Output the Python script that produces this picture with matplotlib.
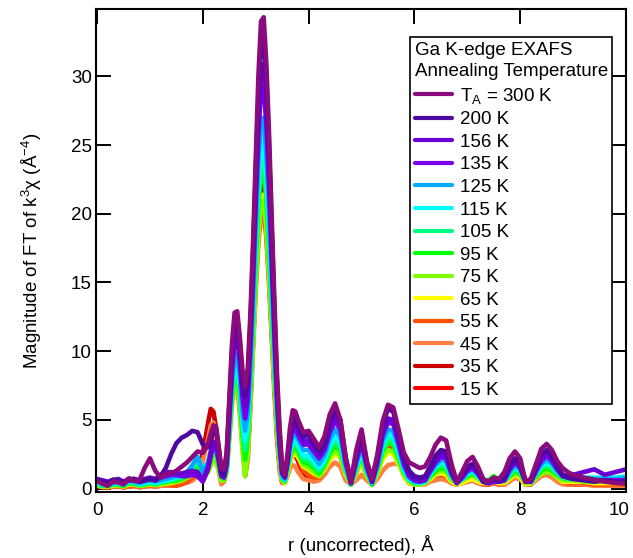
import numpy as np
import matplotlib.pyplot as plt
from matplotlib.transforms import ScaledTranslation

plt.rcParams['font.family'] = ['Liberation Sans', 'DejaVu Sans']
plt.rcParams['mathtext.fontset'] = 'custom'
plt.rcParams['mathtext.rm'] = 'Liberation Sans'
plt.rcParams['mathtext.it'] = 'Liberation Sans:italic'

# r grid (Angstrom): finer steps across the first-shell peaks
r = np.round(np.concatenate([
    np.arange(0, 21) * 0.1,
    2.1 + np.arange(0, 35) * 0.05,
    3.9 + np.arange(0, 52) * 0.1,
    9.2 + np.arange(0, 5) * 0.2,
]), 2)

# |FT| of k^3 chi for each annealing temperature
t300 = [0.55, 0.35, 0.2, 0.5, 0.45, 0.3, 0.75, 0.55, 0.6, 1.5,
        2.2, 1.3, 0.8, 1.1, 1.1, 1.3, 1.6, 1.9, 2.3, 2.7,
        2.6, 3.3, 4.0, 4.6, 4.5, 3.0, 1.5, 1.4, 2.6,
        6.5, 10.5, 12.8, 12.9, 11.0, 8.6, 7.4, 8.8, 12.8, 18.0,
        24.0, 30.0, 34.0, 34.3, 31.0, 26.0, 20.0, 14.0, 8.5, 4.5,
        1.5, 1.0, 2.5, 4.5, 5.7, 5.6, 5.0,
        4.1, 4.2, 3.6, 3.0, 3.8, 5.4, 6.2, 5.0, 2.2, 0.5,
        2.8, 4.3, 2.0, 0.7, 2.5, 4.9, 6.1, 5.9, 4.3, 2.6,
        1.9, 1.7, 1.5, 1.6, 2.3, 3.2, 3.7, 3.5, 1.8, 0.5,
        1.2, 2.0, 2.3, 1.6, 0.7, 0.5, 0.8, 0.7, 1.2, 2.2,
        2.7, 2.2, 0.5, 0.7, 1.8, 2.9, 3.25, 2.8, 2.0, 1.5,
        1.2, 1.0, 0.8, 0.65, 0.5, 0.4, 0.35]
t200 = [0.6, 0.5, 0.4, 0.65, 0.6, 0.45, 0.6, 0.7, 0.5, 0.6,
        0.7, 0.6, 0.9, 1.5, 2.5, 3.3, 3.7, 3.9, 4.2, 4.1,
        3.2, 3.0, 3.5, 4.2, 4.3, 3.0, 1.2, 1.0, 2.2,
        6.0, 9.8, 12.2, 12.4, 10.5, 8.0, 6.7, 8.0, 12.0, 17.2,
        23.0, 28.5, 32.4, 32.8, 29.8, 25.0, 19.0, 13.2, 7.8, 4.0,
        1.3, 0.9, 2.2, 4.0, 5.1, 5.2, 4.6,
        3.8, 3.9, 3.3, 2.7, 3.3, 4.9, 5.8, 5.0, 2.3, 0.5,
        2.5, 4.0, 1.9, 0.6, 2.3, 4.6, 5.8, 5.6, 4.0, 2.3,
        1.3, 0.9, 0.8, 0.9, 1.6, 2.4, 2.8, 2.7, 1.4, 0.5,
        1.0, 1.6, 1.8, 1.3, 0.6, 0.5, 0.7, 0.6, 0.8, 1.7,
        2.2, 1.8, 0.6, 0.6, 1.6, 2.5, 2.8, 2.4, 1.6, 1.0,
        0.8, 0.7, 0.6, 0.5, 0.6, 0.5, 0.5]
t156 = [0.7, 0.6, 0.5, 0.6, 0.7, 0.5, 0.7, 0.7, 0.6, 0.7,
        0.8, 0.7, 1.0, 1.2, 1.2, 1.1, 1.1, 1.2, 1.3, 1.2,
        0.6, 1.6, 2.6, 3.4, 3.3, 2.2, 1.0, 0.9, 2.0,
        5.6, 9.0, 11.3, 11.5, 9.8, 7.3, 5.9, 7.3, 11.3, 16.3,
        22.0, 27.2, 30.6, 30.9, 28.0, 23.4, 17.8, 12.3, 7.2, 3.6,
        1.2, 0.9, 2.0, 3.6, 4.6, 4.7, 4.2,
        3.5, 3.5, 3.0, 2.4, 3.0, 4.4, 5.3, 4.6, 2.1, 0.4,
        2.2, 3.6, 1.7, 0.5, 2.0, 4.1, 5.1, 5.0, 3.6, 2.0,
        1.0, 0.7, 0.6, 0.7, 1.4, 2.1, 2.5, 2.4, 1.2, 0.4,
        0.9, 1.4, 1.7, 1.2, 0.5, 0.4, 0.6, 0.5, 0.7, 1.5,
        2.0, 1.6, 0.5, 0.5, 1.4, 2.2, 2.6, 2.2, 1.5, 1.0,
        0.9, 1.0, 1.2, 1.4, 1.0, 1.2, 1.4]
t135 = [0.6, 0.5, 0.4, 0.5, 0.6, 0.4, 0.6, 0.6, 0.5, 0.6,
        0.7, 0.6, 0.8, 0.9, 1.0, 1.0, 0.9, 0.9, 1.0, 0.9,
        0.5, 1.4, 2.4, 3.1, 3.0, 2.0, 0.9, 0.8, 1.8,
        5.2, 8.5, 10.7, 10.9, 9.2, 6.6, 5.1, 6.5, 10.4, 15.3,
        20.8, 25.8, 29.0, 29.3, 26.5, 22.2, 16.9, 11.6, 6.8, 3.3,
        1.1, 0.8, 1.9, 3.4, 4.3, 4.4, 3.9,
        3.2, 3.2, 2.7, 2.2, 2.8, 4.1, 4.9, 4.3, 1.9, 0.4,
        2.0, 3.4, 1.6, 0.5, 1.9, 3.9, 4.8, 4.7, 3.3, 1.8,
        0.9, 0.6, 0.5, 0.6, 1.3, 1.9, 2.3, 2.2, 1.1, 0.4,
        0.8, 1.3, 1.5, 1.1, 0.5, 0.4, 0.5, 0.5, 0.6, 1.4,
        1.9, 1.5, 0.5, 0.5, 1.3, 2.0, 2.4, 2.0, 1.4, 0.9,
        0.8, 0.7, 0.7, 0.6, 0.6, 0.6, 0.6]
t125 = [0.5, 0.4, 0.3, 0.4, 0.5, 0.3, 0.6, 0.5, 0.4, 0.5,
        0.6, 0.5, 0.6, 0.7, 0.8, 0.9, 1.0, 1.2, 1.7, 2.3,
        1.2, 1.9, 2.7, 3.2, 3.1, 2.1, 1.0, 0.9, 1.6,
        4.6, 7.6, 9.6, 9.8, 8.2, 5.6, 4.2, 5.5, 9.2, 14.0,
        19.2, 23.8, 26.7, 27.0, 24.4, 20.4, 15.5, 10.6, 6.1, 2.9,
        1.0, 0.7, 1.7, 3.1, 3.9, 4.0, 3.6,
        2.8, 2.8, 2.3, 1.8, 2.4, 3.6, 4.3, 3.8, 1.7, 0.4,
        1.8, 3.1, 1.4, 0.4, 1.7, 3.5, 4.3, 4.2, 3.0, 1.6,
        0.8, 0.5, 0.5, 0.6, 1.2, 1.7, 2.1, 2.0, 1.0, 0.4,
        0.7, 1.2, 1.4, 1.0, 0.5, 0.4, 0.5, 0.5, 0.6, 1.2,
        1.7, 1.4, 0.5, 0.5, 1.2, 1.8, 2.1, 1.8, 1.3, 0.9,
        0.8, 0.8, 0.7, 0.7, 0.7, 0.7, 0.8]
t115 = [0.4, 0.3, 0.3, 0.4, 0.4, 0.3, 0.5, 0.5, 0.3, 0.4,
        0.5, 0.4, 0.5, 0.6, 0.7, 0.8, 0.9, 1.1, 1.6, 2.3,
        1.4, 1.9, 2.6, 3.0, 2.9, 2.0, 1.0, 0.9, 1.5,
        4.4, 7.2, 9.0, 9.2, 7.6, 5.0, 3.5, 4.8, 8.6, 13.2,
        18.2, 22.5, 25.1, 25.4, 23.0, 19.2, 14.6, 10.0, 5.8, 2.7,
        0.9, 0.6, 1.6, 2.8, 3.5, 3.6, 3.2,
        2.4, 2.4, 2.0, 1.5, 2.1, 3.2, 3.8, 3.4, 1.5, 0.4,
        1.6, 2.8, 1.3, 0.4, 1.6, 3.2, 4.0, 3.8, 2.7, 1.4,
        0.7, 0.5, 0.4, 0.5, 1.1, 1.6, 1.9, 1.8, 0.9, 0.4,
        0.7, 1.1, 1.3, 0.9, 0.5, 0.4, 0.5, 0.5, 0.6, 1.1,
        1.6, 1.3, 0.5, 0.5, 1.1, 1.7, 1.9, 1.7, 1.2, 0.9,
        0.8, 0.8, 0.8, 0.8, 0.8, 0.8, 0.9]
t105 = [0.35, 0.25, 0.2, 0.3, 0.35, 0.25, 0.45, 0.4, 0.3, 0.35,
        0.45, 0.35, 0.45, 0.55, 0.6, 0.7, 0.8, 1.0, 1.4, 2.0,
        1.2, 1.7, 2.4, 2.8, 2.7, 1.8, 0.9, 0.8, 1.4,
        4.2, 6.9, 8.6, 8.8, 7.2, 4.5, 2.8, 4.2, 8.0, 12.6,
        17.4, 21.5, 23.9, 24.2, 21.9, 18.2, 13.8, 9.4, 5.4, 2.5,
        0.8, 0.6, 1.5, 2.6, 3.2, 3.3, 3.0,
        2.1, 2.1, 1.7, 1.3, 1.9, 2.9, 3.4, 3.1, 1.4, 0.3,
        1.5, 2.6, 1.2, 0.4, 1.5, 2.9, 3.6, 3.5, 2.5, 1.3,
        0.6, 0.4, 0.4, 0.5, 1.0, 1.5, 1.7, 1.6, 0.8, 0.4,
        0.7, 1.0, 1.2, 0.9, 0.5, 0.5, 0.7, 0.5, 0.6, 1.0,
        1.5, 1.2, 0.5, 0.5, 1.0, 1.5, 1.7, 1.5, 1.1, 0.8,
        0.7, 0.7, 0.7, 0.7, 0.7, 0.7, 0.7]
t95 = [0.3, 0.2, 0.2, 0.3, 0.3, 0.2, 0.4, 0.35, 0.25, 0.3,
       0.4, 0.3, 0.4, 0.5, 0.55, 0.6, 0.7, 0.9, 1.2, 1.7,
       1.0, 1.5, 2.1, 2.6, 2.5, 1.7, 0.8, 0.7, 1.3,
       4.0, 6.6, 8.2, 8.4, 6.8, 4.0, 2.1, 3.7, 7.5, 12.0,
       16.6, 20.6, 22.9, 23.2, 21.0, 17.4, 13.2, 9.0, 5.1, 2.3,
       0.7, 0.5, 1.4, 2.4, 3.0, 3.0, 2.7,
       1.9, 1.8, 1.5, 1.1, 1.7, 2.6, 3.1, 2.8, 1.3, 0.3,
       1.4, 2.4, 1.1, 0.3, 1.4, 2.7, 3.3, 3.2, 2.3, 1.2,
       0.6, 0.4, 0.4, 0.5, 0.9, 1.3, 1.5, 1.4, 0.8, 0.5,
       0.7, 0.9, 1.1, 0.9, 0.6, 0.6, 0.9, 0.6, 0.6, 0.9,
       1.3, 1.1, 0.5, 0.5, 0.9, 1.3, 1.5, 1.3, 1.0, 0.8,
       0.7, 0.7, 0.7, 0.6, 0.7, 0.6, 0.6]
t75 = [0.25, 0.15, 0.15, 0.25, 0.25, 0.15, 0.35, 0.3, 0.2, 0.25,
       0.35, 0.25, 0.35, 0.4, 0.45, 0.5, 0.6, 0.8, 1.0, 1.3,
       0.8, 1.2, 1.7, 2.0, 1.9, 1.3, 0.6, 0.6, 1.2,
       3.6, 6.0, 7.4, 7.6, 6.0, 3.0, 0.9, 2.6, 6.6, 10.8,
       15.0, 18.6, 20.7, 21.0, 19.0, 15.8, 12.0, 8.2, 4.6, 2.0,
       0.6, 0.5, 1.3, 2.2, 2.7, 2.8, 2.5,
       1.7, 1.5, 1.2, 0.9, 1.5, 2.3, 2.7, 2.4, 1.1, 0.3,
       1.2, 2.1, 1.0, 0.3, 1.2, 2.3, 2.8, 2.7, 1.9, 1.0,
       0.5, 0.3, 0.3, 0.4, 0.8, 1.1, 1.3, 1.2, 0.6, 0.4,
       0.6, 0.8, 0.9, 0.7, 0.5, 0.6, 0.8, 0.5, 0.5, 0.8,
       1.1, 0.9, 0.4, 0.4, 0.8, 1.1, 1.2, 1.1, 0.8, 0.6,
       0.6, 0.6, 0.5, 0.5, 0.5, 0.5, 0.5]
t65 = [0.25, 0.15, 0.15, 0.2, 0.25, 0.15, 0.3, 0.3, 0.2, 0.25,
       0.3, 0.25, 0.3, 0.35, 0.4, 0.5, 0.6, 0.8, 1.1, 1.4,
       0.7, 1.2, 1.7, 2.1, 2.0, 1.3, 0.6, 0.6, 1.2,
       3.7, 6.2, 7.6, 7.8, 6.2, 3.3, 1.2, 2.9, 6.9, 11.0,
       15.3, 19.0, 21.1, 21.4, 19.3, 16.0, 12.1, 8.2, 4.6, 2.0,
       0.6, 0.4, 1.1, 2.0, 2.5, 2.5, 2.3,
       1.6, 1.4, 1.1, 0.9, 1.4, 2.1, 2.5, 2.3, 1.0, 0.3,
       1.1, 1.9, 0.9, 0.3, 1.1, 2.1, 2.6, 2.5, 1.8, 0.9,
       0.4, 0.3, 0.3, 0.4, 0.7, 1.0, 1.1, 1.0, 0.5, 0.3,
       0.4, 0.6, 0.7, 0.5, 0.4, 0.4, 0.6, 0.4, 0.4, 0.7,
       1.0, 0.8, 0.3, 0.4, 0.8, 1.1, 1.3, 1.2, 0.8, 0.5,
       0.5, 0.5, 0.5, 0.4, 0.4, 0.4, 0.4]
t55 = [0.3, 0.15, 0.1, 0.15, 0.2, 0.1, 0.2, 0.25, 0.15, 0.2,
       0.25, 0.2, 0.3, 0.3, 0.25, 0.2, 0.3, 0.5, 0.8, 1.1,
       1.0, 1.8, 2.7, 3.2, 3.0, 1.8, 0.6, 0.5, 1.3,
       3.9, 6.3, 7.6, 7.8, 6.3, 3.4, 1.0, 2.6, 6.6, 10.7,
       14.8, 18.3, 20.3, 20.5, 18.5, 15.2, 11.5, 7.7, 4.2, 1.8,
       0.5, 0.4, 1.1, 2.0, 2.5, 2.6, 2.3,
       1.3, 1.0, 0.8, 0.8, 1.4, 2.1, 2.5, 2.3, 1.0, 0.3,
       1.1, 1.9, 0.9, 0.3, 1.3, 2.5, 3.2, 3.1, 2.1, 1.0,
       0.4, 0.3, 0.3, 0.4, 0.8, 1.1, 1.2, 1.1, 0.5, 0.3,
       0.5, 0.7, 0.8, 0.6, 0.4, 0.3, 0.5, 0.4, 0.4, 0.7,
       1.1, 0.9, 0.3, 0.4, 0.9, 1.2, 1.4, 1.2, 0.8, 0.5,
       0.4, 0.4, 0.4, 0.3, 0.3, 0.3, 0.3]
t45 = [0.2, 0.1, 0.1, 0.15, 0.15, 0.1, 0.15, 0.2, 0.1, 0.15,
       0.2, 0.15, 0.2, 0.25, 0.2, 0.3, 0.4, 0.5, 0.6, 0.9,
       2.0, 3.6, 4.6, 4.8, 3.8, 1.2, 0.3, 0.6, 2.6,
       5.5, 7.5, 8.0, 7.4, 5.4, 2.8, 0.9, 2.0, 5.8, 10.1,
       14.3, 17.8, 19.8, 20.1, 18.2, 15.0, 11.0, 7.0, 3.6, 1.3,
       0.4, 0.4, 0.9, 1.5, 1.7, 1.6, 1.2,
       0.7, 0.6, 0.5, 0.6, 1.0, 1.6, 1.9, 1.6, 0.6, 0.3,
       0.6, 1.0, 0.6, 0.3, 0.7, 1.3, 1.7, 1.8, 1.8, 1.5,
       1.0, 0.5, 0.3, 0.3, 0.5, 0.6, 0.7, 0.6, 0.4, 0.3,
       0.4, 0.5, 0.6, 0.4, 0.3, 0.3, 0.4, 0.3, 0.3, 0.5,
       0.8, 0.7, 0.3, 0.3, 0.6, 0.9, 1.0, 0.8, 0.5, 0.3,
       0.3, 0.3, 0.3, 0.2, 0.2, 0.2, 0.2]
t35 = [0.25, 0.15, 0.1, 0.15, 0.2, 0.1, 0.15, 0.2, 0.15, 0.2,
       0.25, 0.2, 0.25, 0.3, 0.3, 0.35, 0.4, 0.5, 0.7, 1.2,
       2.6, 4.8, 5.8, 5.6, 4.4, 2.6, 1.2, 1.0, 2.0,
       4.6, 7.0, 8.1, 8.2, 6.7, 3.8, 1.5, 3.2, 7.3, 11.6,
       15.9, 19.6, 21.7, 22.0, 19.8, 16.3, 12.3, 8.2, 4.5, 1.8,
       0.5, 0.6, 1.4, 2.3, 2.7, 2.6, 2.1,
       1.1, 0.8, 0.7, 0.9, 1.7, 2.5, 2.9, 2.6, 1.1, 0.3,
       1.3, 2.2, 1.0, 0.3, 1.3, 2.6, 3.3, 3.2, 2.2, 1.0,
       0.4, 0.3, 0.4, 0.6, 0.8, 1.0, 1.0, 0.9, 0.5, 0.3,
       0.4, 0.6, 0.7, 0.5, 0.3, 0.3, 0.4, 0.3, 0.4, 0.7,
       0.9, 0.8, 0.3, 0.4, 0.9, 1.2, 1.3, 1.1, 0.7, 0.4,
       0.4, 0.3, 0.3, 0.3, 0.3, 0.3, 0.3]
t15 = [0.2, 0.1, 0.1, 0.15, 0.15, 0.1, 0.15, 0.2, 0.1, 0.15,
       0.2, 0.15, 0.2, 0.25, 0.25, 0.3, 0.35, 0.45, 0.6, 1.0,
       2.2, 4.0, 4.6, 4.4, 3.5, 2.2, 1.0, 0.9, 1.8,
       4.3, 6.8, 7.9, 8.0, 6.5, 3.5, 1.2, 2.9, 7.0, 11.4,
       15.6, 19.3, 21.3, 21.6, 19.5, 16.0, 12.1, 8.0, 4.3, 1.7,
       0.5, 0.5, 1.2, 2.1, 2.5, 2.4, 2.0,
       1.0, 0.7, 0.6, 0.8, 1.5, 2.2, 2.6, 2.3, 1.0, 0.3,
       1.2, 2.0, 0.9, 0.3, 1.2, 2.4, 3.0, 2.9, 2.0, 0.9,
       0.4, 0.3, 0.4, 0.6, 0.9, 0.9, 0.9, 0.8, 0.4, 0.3,
       0.4, 0.5, 0.6, 0.4, 0.3, 0.3, 0.4, 0.3, 0.3, 0.6,
       0.8, 0.7, 0.3, 0.3, 0.8, 1.1, 1.2, 1.0, 0.6, 0.4,
       0.3, 0.3, 0.3, 0.3, 0.3, 0.3, 0.3]

labels = ['T$_\\mathregular{A}$ = 300 K', '200 K', '156 K', '135 K', '125 K',
          '115 K', '105 K', '95 K', '75 K', '65 K', '55 K', '45 K',
          '35 K', '15 K']
colors = ['#8b0a7c', '#4e08a0', '#6a00d2', '#7a00ea', '#00aaff', '#00ffff',
          '#00ff80', '#00ff00', '#80ff00', '#ffff00', '#ff5000', '#ff8040',
          '#cc0000', '#ff0000']
curves = [t300, t200, t156, t135, t125, t115, t105, t95, t75, t65, t55,
          t45, t35, t15]

fig = plt.figure(figsize=(6.33, 5.58), dpi=100)
ax = fig.add_axes([96 / 633, 1 - 492 / 558, 530 / 633, 483 / 558])

# coldest first so the warmer curves sit on top
lines = {}
for lab, col, y in reversed(list(zip(labels, colors, curves))):
    lines[lab], = ax.plot(r, y, color=col, lw=3.3, label=lab,
                          solid_joinstyle='round', solid_capstyle='round')

ax.set_xlim(-0.02, 10.0)
ax.set_ylim(-0.25, 34.9)
ax.set_xticks([0, 2, 4, 6, 8, 10])
ax.set_yticks([0, 5, 10, 15, 20, 25, 30])
ax.set_axisbelow(True)
ax.tick_params(direction='in', length=11, width=1.4, top=True, right=True,
               labelsize=13.5, colors='black')
ax.tick_params(axis='x', pad=7)
ax.tick_params(axis='y', pad=3)
for sp in ax.spines.values():
    sp.set_linewidth(1.5)

# keep the last x label inside the canvas
last = ax.get_xticklabels()[-1]
last.set_transform(last.get_transform() + ScaledTranslation(-5 / 72, 0, fig.dpi_scale_trans))

ax.set_xlabel('r (uncorrected), Å', fontsize=13.5, labelpad=12)
ax.set_ylabel('Magnitude of FT of k$^{\\mathregular{3}}$χ (Å$^{\\mathregular{-4}}$)',
              fontsize=13.5, labelpad=19)

leg = ax.legend([lines[l] for l in labels], labels,
                title='Ga K-edge EXAFS\nAnnealing Temperature',
                loc='upper right', bbox_to_anchor=(0.9745, 0.942),
                borderaxespad=0, fontsize=13.5, title_fontsize=13.5,
                alignment='left', frameon=True, fancybox=False,
                edgecolor='black', framealpha=1, handlelength=2.0,
                handletextpad=0.45, labelspacing=0.29, borderpad=0.25)
leg.get_frame().set_linewidth(1.2)
leg.get_title().set_linespacing(1.35)
for h in leg.get_lines():
    h.set_linewidth(3.0)

fig.savefig('out.png', dpi=100)
